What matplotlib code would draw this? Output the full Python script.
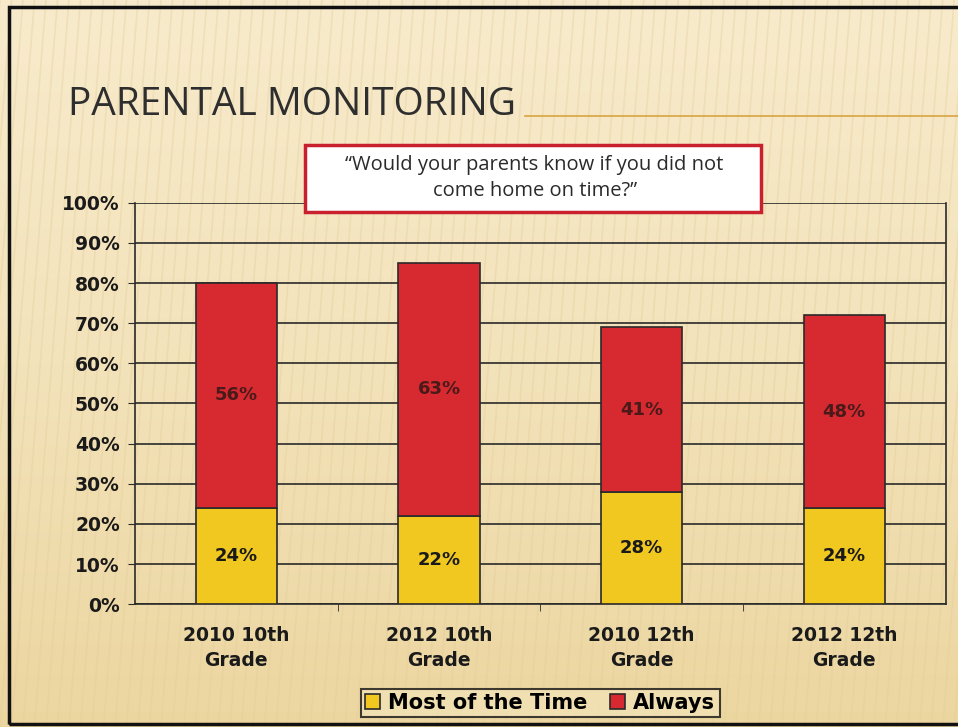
import matplotlib.pyplot as plt
import numpy as np
from matplotlib.patches import Rectangle
from matplotlib.colors import LinearSegmentedColormap

categories = ['2010 10th\nGrade', '2012 10th\nGrade', '2010 12th\nGrade', '2012 12th\nGrade']
most_of_time = [24, 22, 28, 24]
always = [56, 63, 41, 48]
y_ticks = [0, 10, 20, 30, 40, 50, 60, 70, 80, 90, 100]

yellow = '#f0c820'
red = '#d62a30'

fig = plt.figure(figsize=(9.58, 7.27), dpi=100)

# beige slide background with a soft vertical gradient
bg = fig.add_axes([0, 0, 1, 1], zorder=-10)
grad = np.linspace(0, 1, 256).reshape(-1, 1)
cmap = LinearSegmentedColormap.from_list('slide', ['#f8ebcc', '#f3e3bb', '#ecd6a0'])
bg.imshow(grad, aspect='auto', cmap=cmap, extent=[0, 1, 0, 1], origin='upper')
# faint diagonal stripes
for x0 in np.arange(-0.3, 1.05, 0.012):
    bg.plot([x0, x0 + 0.06], [0, 1], color='#e2cc98', lw=1.2, alpha=0.35)
bg.set_xlim(0, 1)
bg.set_ylim(0, 1)
bg.axis('off')

# slide frame
fig.add_artist(Rectangle((0.009, 0.004), 1.0, 0.987, transform=fig.transFigure,
                         fill=False, edgecolor='#111111', lw=2.5))

# title and rule
fig.text(0.071, 0.842, 'PARENTAL MONITORING', fontsize=28, color='#2e2e2e',
         family=['Open Sans', 'DejaVu Sans'], va='baseline')
fig.add_artist(plt.Line2D([0.548, 1.0], [0.84, 0.84], transform=fig.transFigure,
                          color='#d9a441', lw=1.2))

ax = fig.add_axes([0.141, 0.169, 0.846, 0.552])
ax.patch.set_alpha(0)
x = np.arange(len(categories))
ax.bar(x, most_of_time, width=0.4, color=yellow, edgecolor='#2a2a2a', lw=1.2,
       label='Most of the Time', zorder=3)
ax.bar(x, always, width=0.4, bottom=most_of_time, color=red, edgecolor='#2a2a2a', lw=1.2,
       label='Always', zorder=3)

for i in range(len(categories)):
    ax.text(x[i], most_of_time[i] / 2, f'{most_of_time[i]}%', ha='center', va='center',
            fontsize=13, fontweight='bold', color='#1a1a1a', zorder=4)
    ax.text(x[i], most_of_time[i] + always[i] / 2, f'{always[i]}%', ha='center', va='center',
            fontsize=13, fontweight='bold', color='#4a1a1a', zorder=4)

ax.set_xlim(-0.5, len(categories) - 0.5)
ax.set_ylim(0, 100)
ax.set_yticks(y_ticks)
ax.set_yticklabels([f'{v}%' for v in y_ticks], fontsize=13.5, fontweight='bold', color='#1a1a1a')
ax.set_xticks(x)
ax.set_xticklabels(categories, fontsize=13.5, fontweight='bold', color='#1a1a1a',
                   linespacing=1.35)
ax.set_xticks(np.arange(0.5, len(categories) - 0.5, 1), minor=True)
ax.tick_params(axis='x', which='major', length=0, pad=16)
ax.tick_params(axis='x', which='minor', length=5, color='#2a2a2a')
ax.tick_params(axis='y', length=5, color='#2a2a2a', pad=6, direction='out')
ax.grid(axis='y', color='#2a2a2a', lw=1.2, zorder=1)
for s in ax.spines.values():
    s.set_color('#2a2a2a')
    s.set_linewidth(1.2)
ax.spines['top'].set_visible(False)

leg = ax.legend(loc='upper center', bbox_to_anchor=(0.5, -0.185), ncol=2, frameon=True,
                prop={'weight': 'bold', 'size': 15}, handlelength=0.7, handleheight=0.7,
                handletextpad=0.4, columnspacing=1.1, borderpad=0.2, fancybox=False)
leg.get_frame().set_edgecolor('#111111')
leg.get_frame().set_facecolor('#f2e2b6')
leg.get_frame().set_linewidth(1.5)

# question box
fig.add_artist(Rectangle((0.318, 0.709), 0.476, 0.092, transform=fig.transFigure,
                         facecolor='white', edgecolor='#c8202c', lw=2.5, zorder=5))
fig.text(0.558, 0.755, '\u201cWould your parents know if you did not\ncome home on time?\u201d',
         ha='center', va='center', fontsize=14.5, color='#2a2a2a', linespacing=1.35,
         family=['Open Sans', 'DejaVu Sans'], zorder=6)

fig.savefig('out.png', dpi=100)
